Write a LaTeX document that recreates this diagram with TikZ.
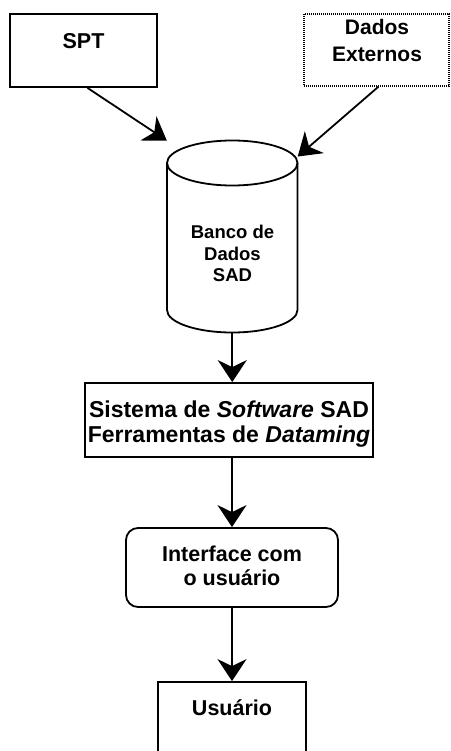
\documentclass[tikz,border=0pt]{standalone}
\usepackage{fontspec}
\setmainfont{Liberation Sans}
\usetikzlibrary{arrows.meta,calc}
\newcommand\mltext[1]{\begin{tabular}[t]{@{}c@{}}#1\end{tabular}}
\begin{document}
\begin{tikzpicture}[x=1pt,y=-1pt,
  box/.style={draw, line width=1.8pt, inner sep=0pt},
  dotbox/.style={draw, line width=1.3pt, dash pattern=on 1pt off 1pt, inner sep=0pt},
  roundbox/.style={draw, line width=1.8pt, rounded corners=12pt, inner sep=0pt},
  txt/.style={anchor=base, inner sep=0pt, font=\bfseries\fontsize{21.5}{25.5}\selectfont},
  flow/.style={line width=1.8pt, -{Stealth[length=22pt, width=29pt, inset=7pt]}},
  cyl/.style={line width=1.8pt}]
\useasboundingbox (0,0) rectangle (450,751);
% boxes
\node[box, minimum width=147pt, minimum height=73pt] (spt) at (83.5,50.5) {};
\node[txt] (spttxt) at (83.5,48.3) {SPT};
\node[dotbox, minimum width=145pt, minimum height=72pt] (dados) at (376.5,50) {};
\node[txt, font=\bfseries\fontsize{21}{26.5}\selectfont] (dadostxt) at (377,35) {\mltext{Dados\\Externos}};
% cylinder
\node[inner sep=0pt, minimum width=130.5pt, minimum height=192pt] (db) at (232.25,236.75) {};
\draw[cyl] (167,163) -- (167,310) arc[start angle=180, end angle=360, x radius=65.25pt, y radius=22.5pt] -- (297.5,163);
\draw[cyl] (232.25,163) ellipse[x radius=65.25pt, y radius=22.5pt];
\node[txt, font=\bfseries\fontsize{18.5}{21.7}\selectfont] (dbtxt) at (232.5,238.3) {\mltext{Banco de\\Dados\\SAD}};
% sistema
\node[box, minimum width=288pt, minimum height=74pt] (sis) at (229,420) {};
\node[txt, font=\bfseries\fontsize{23}{25}\selectfont] (sistxt) at (229,417) {\mltext{Sistema de \textit{Software} SAD\\Ferramentas de \textit{Dataming}}};
% interface
\node[roundbox, minimum width=212pt, minimum height=79pt] (iface) at (232,567.5) {};
\node[txt, font=\bfseries\fontsize{21.5}{24.5}\selectfont] (ifacetxt) at (232,561) {\mltext{Interface com\\o usuário}};
% usuario
\node[box, minimum width=148pt, minimum height=71pt] (usr) at (232,717.5) {};
\node[txt] (usrtxt) at (232,715) {Usuário};
% arrows
\draw[flow] ([xshift=4pt]spt.south) -- (db.north west);
\draw[flow] ([xshift=2pt]dados.south) -- ($(db.north east)+(0,16)$);
\draw[flow] (db.south) -- (db.south |- sis.north);
\draw[flow] (iface.north |- sis.south) -- (iface.north);
\draw[flow] (iface.south) -- (usr.north);
\end{tikzpicture}
\end{document}
